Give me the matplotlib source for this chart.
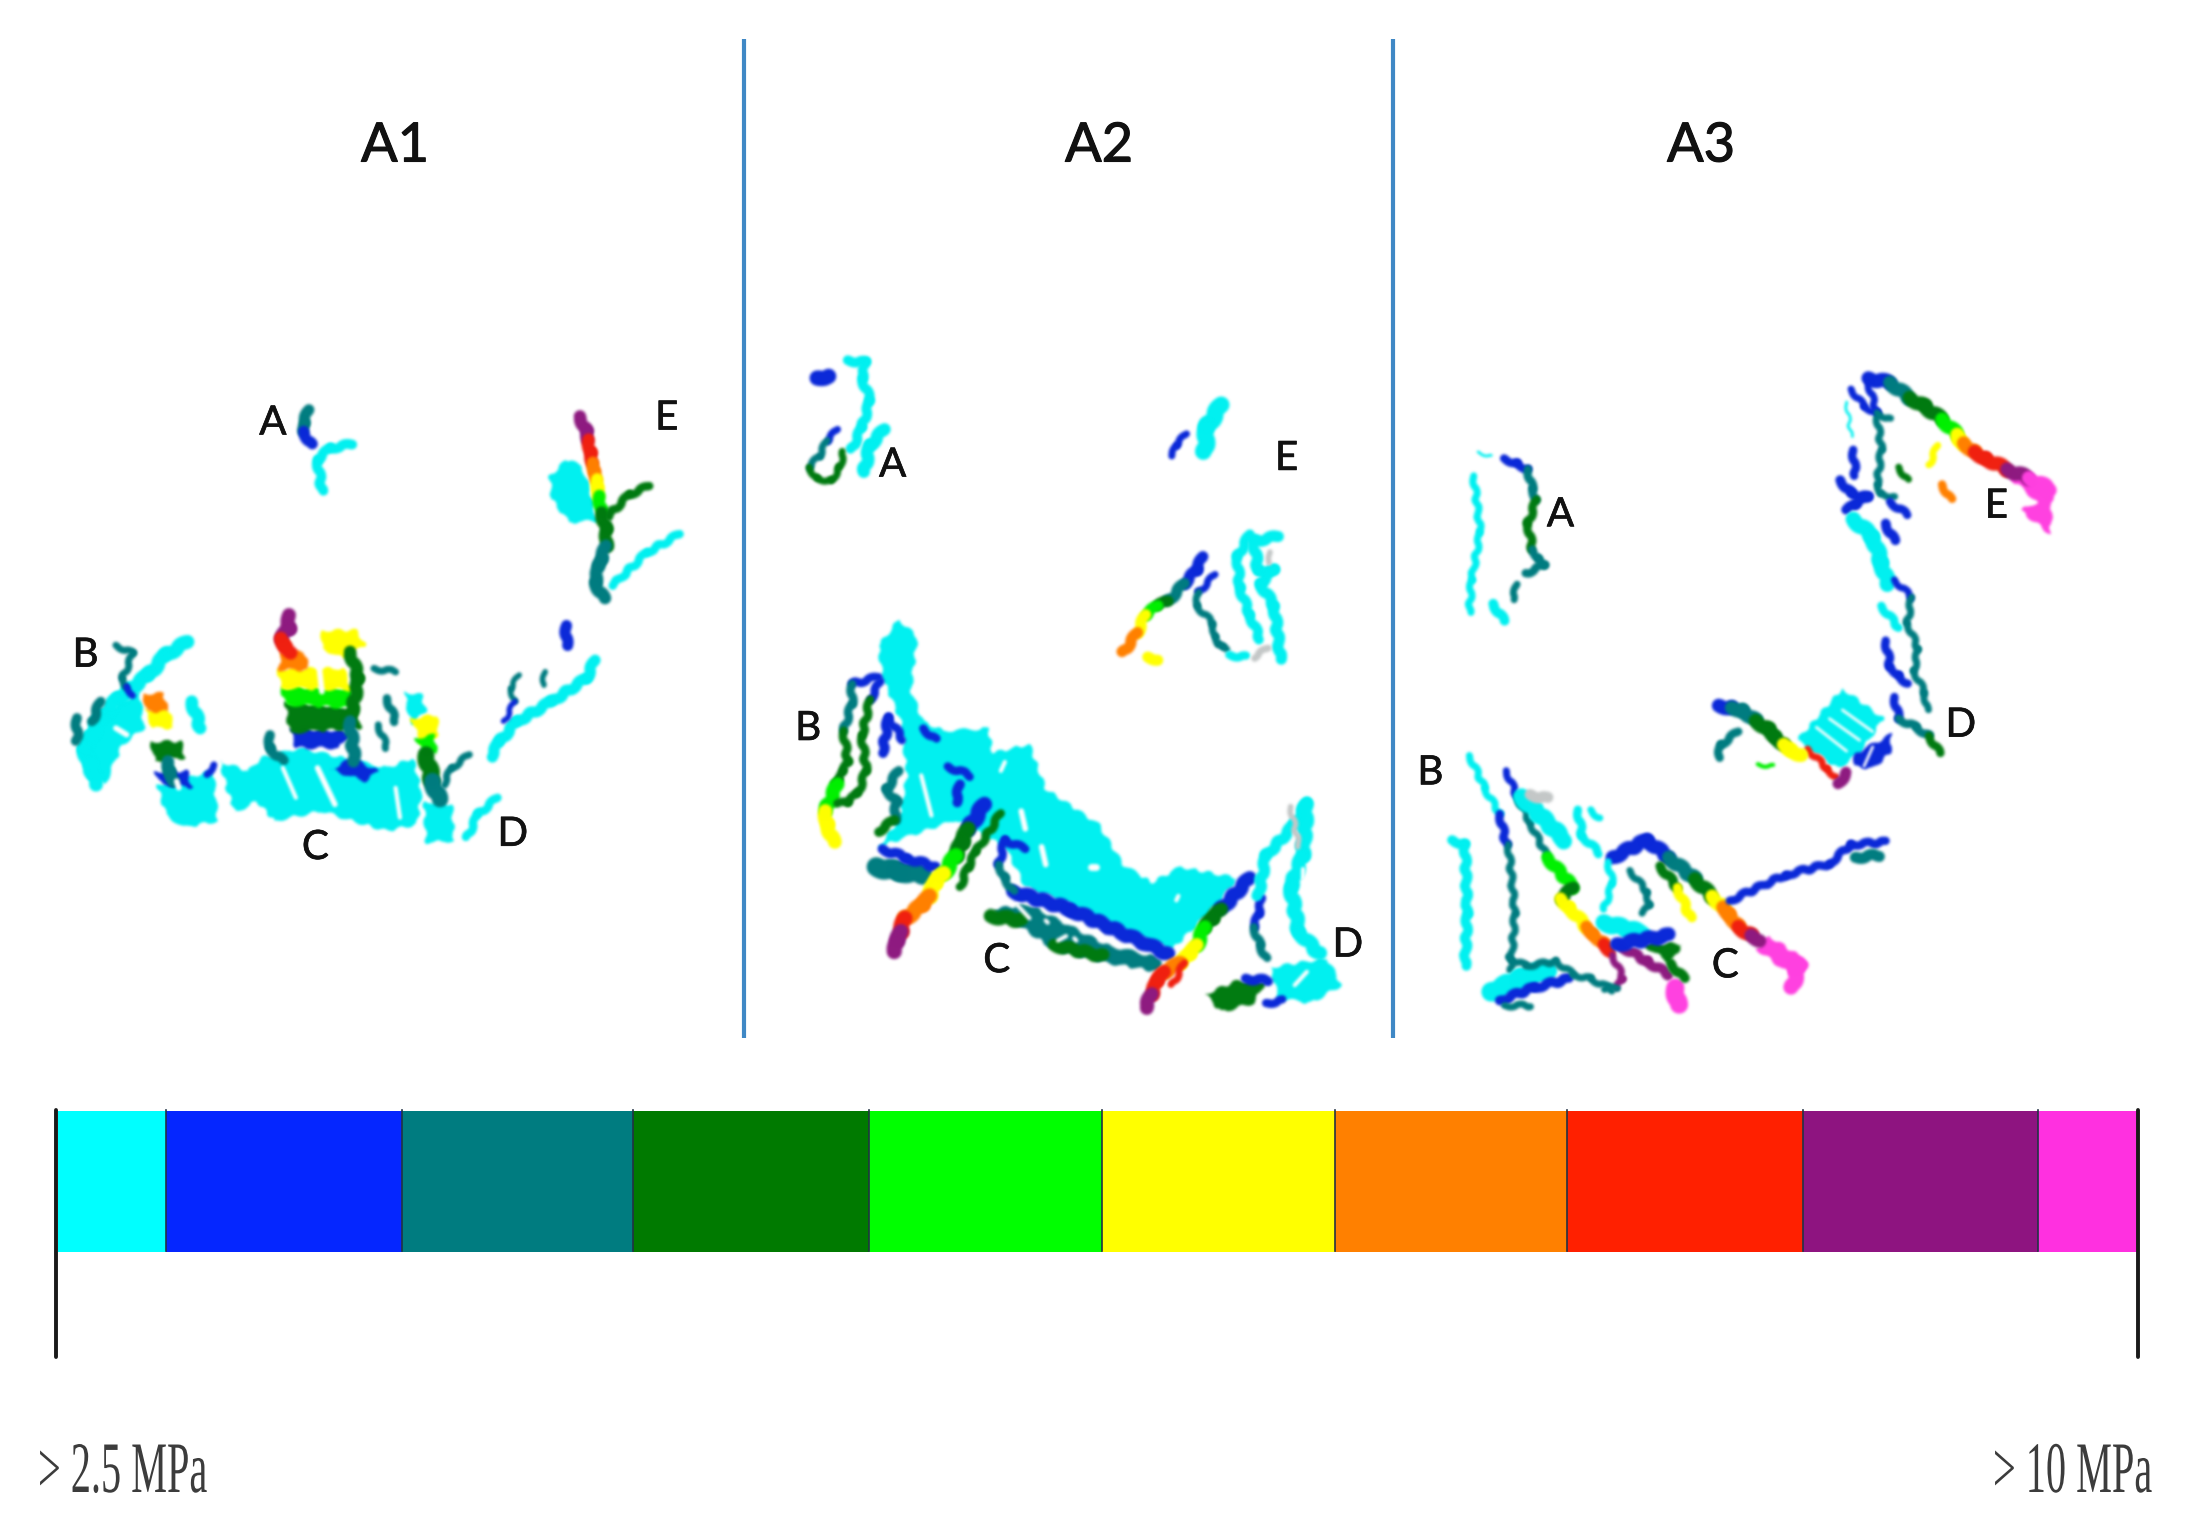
import numpy as np
import matplotlib
matplotlib.use("Agg")
import matplotlib.pyplot as plt
import matplotlib.patheffects as pe
from matplotlib.patches import Polygon
from matplotlib.transforms import Affine2D

W, H = 2204, 1536
PAL = dict(c='#00F0F0', b='#0A28D8', t='#007C80', g='#007A10', l='#00F000',
           y='#FFFF00', o='#FF8000', r='#F02010', p='#8E1A80', m='#FF40E0',
           s='#C4C8C8')

# ---- colour scale
scale_colors = ['#00FFFF', '#0526FF', '#007C80', '#007A00', '#00FF00',
                '#FFFF00', '#FF8000', '#FF2000', '#8E1480', '#FF30E0']
scale_edges = [58, 166, 402, 633, 869, 1102, 1335, 1567, 1803, 2038, 2137]
scale_labels = ['> 2.5 MPa', '> 10 MPa']
panel_titles = ['A1', 'A2', 'A3']

# ---- region labels: (text, x, y)
labels_1 = [('A', 537, 190), ('B', 105, 890), ('C', 635, 1470), ('D', 1090, 1430), ('E', 1445, 175)]
labels_2 = [('A', 325, 325), ('B', 118, 915), ('C', 580, 1435), ('D', 1440, 1400), ('E', 1290, 310)]
labels_3 = [('A', 370, 380), ('B', 70, 975), ('C', 750, 1420), ('D', 1293, 865), ('E', 1375, 360)]

# ---- filled stress regions: (colour, outline)
fills_1 = [
 ('c', [(1215,300),(1175,350),(1180,420),(1220,490),(1285,485),(1270,400),(1250,320)]),
 ('c', [(885,1330),(950,1340),(955,1450),(890,1455)]),
 ('c', [(415,1210),(480,1240),(510,1200),(600,1170),(700,1200),(800,1230),(860,1200),(880,1300),(870,1400),(800,1420),(720,1390),(650,1360),(540,1390),(500,1330),(450,1365),(430,1290)]),
 ('c', [(270,1280),(400,1240),(410,1390),(330,1410),(290,1370)]),
 ('c', [(120,1080),(230,1000),(240,1110),(190,1160),(150,1280),(110,1260),(90,1180)]),
 ('c', [(840,1000),(880,1010),(890,1060),(855,1100)]),
 ('b', [(575,1110),(720,1120),(690,1170),(590,1170)]),
 ('g', [(565,1030),(730,1050),(740,1110),(575,1125)]),
 ('l', [(555,985),(720,990),(730,1050),(565,1040)]),
 ('y', [(548,930),(700,930),(720,995),(555,990)]),
 ('o', [(555,880),(610,880),(620,935),(550,935)]),
 ('y', [(650,815),(730,815),(750,860),(700,900),(650,870)]),
 ('b', [(670,1235),(720,1200),(780,1240),(750,1270)]),
 ('y', [(855,1080),(915,1070),(920,1130),(880,1160)]),
 ('l', [(865,1140),(910,1130),(915,1190),(885,1190)]),
 ('y', [(240,1050),(295,1050),(310,1110),(260,1110)]),
 ('o', [(238,1005),(285,1005),(295,1060),(245,1060)]),
 ('g', [(255,1150),(325,1150),(335,1200),(265,1210)]),
 ('b', [(265,1240),(340,1240),(350,1290),(280,1280)]),
]
fills_2 = [
 ('c', [(340,670),(385,710),(370,830),(400,900),(450,920),(560,915),(570,970),(660,950),(700,1050),(830,1130),(890,1220),(960,1260),(1030,1225),(1170,1250),(1120,1310),(1010,1410),(900,1375),(760,1310),(650,1270),(600,1180),(480,1120),(290,1180),(340,1120),(360,1020),(345,900),(300,800),(290,730)]),
 ('c', [(1250,1450),(1390,1430),(1425,1490),(1350,1530),(1270,1520)]),
 ('g', [(1090,1510),(1170,1480),(1240,1480),(1210,1530),(1130,1550)]),
 ('t', [(560,1320),(660,1310),(850,1400),(985,1430),(975,1460),(850,1440),(720,1410),(640,1360)]),
]
fills_3 = [
 ('c', [(1020,780),(1115,850),(1060,930),(1010,965),(915,900)]),
 ('b', [(1135,885),(1130,930),(1090,965),(1045,960),(1050,930)]),
 ('m', [(1420,280),(1505,315),(1500,425),(1430,370),(1470,350),(1400,290)]),
 ('g', [(550,1365),(650,1370),(625,1415)]),
 ('m', [(850,1350),(940,1410),(935,1440),(900,1440),(820,1380)]),
]

# ---- strokes: (width, colour codes per vertex, vertices)
strokes_1 = [
 (7, 'cccc', [(720,255),(670,265),(640,300),(650,395)]),
 (8, 'ttbb', [(620,150),(608,190),(608,215),(625,255)]),
 (6, 'ccc', [(1475,525),(1400,580),(1320,680)]),
 (9, 'pprrooyylggttttb', [(1245,170),(1260,215),(1265,240),(1270,280),(1275,310),(1280,335),(1285,360),(1288,385),(1290,410),(1295,460),(1305,510),(1305,560),(1295,600),(1290,620),(1280,670),(1300,720)]),
 (6, 'ggg', [(1405,380),(1360,405),(1310,470)]),
 (8, 'bb', [(1212,800),(1212,860)]),
 (8, 'cccccc', [(1280,905),(1260,960),(1180,1030),(1100,1090),(1060,1150),(1040,1195)]),
 (4, 'ttbb', [(1105,950),(1085,990),(1095,1030),(1070,1090)]),
 (4, 'tt', [(1165,940),(1160,980)]),
 (6, 'ccc', [(1055,1320),(1010,1370),(985,1440)]),
 (12, 'gtb', [(890,1190),(905,1270),(920,1325)]),
 (5, 'ttt', [(990,1190),(950,1230),(930,1280)]),
 (10, 'pprrr', [(575,770),(575,810),(555,840),(565,860),(580,880)]),
 (9, 'ggtt', [(715,880),(735,960),(715,1090),(725,1210)]),
 (7, 'ttb', [(530,1130),(530,1170),(560,1210)]),
 (6, 'tb', [(800,1020),(820,1090)]),
 (5, 'tb', [(780,1100),(800,1170)]),
 (5, 'tt', [(770,930),(820,940)]),
 (10, 'ccccccc', [(340,850),(290,890),(250,950),(180,1020),(140,1080),(100,1170),(130,1280)]),
 (9, 'cc', [(350,1030),(370,1110)]),
 (5, 'tttbb', [(175,860),(215,885),(190,960),(200,985),(215,1010)]),
 (7, 'tt', [(140,1030),(120,1090)]),
 (7, 'tb', [(85,1080),(85,1150)]),
 (9, 'ttb', [(295,1210),(300,1240),(310,1270)]),
 (5, 'bt', [(385,1250),(400,1220)]),
]
strokes_2 = [
 (11, 'bb', [(140,130),(168,125)]),
 (7, 'cccccc', [(215,90),(260,95),(250,130),(270,180),(250,240),(225,290)]),
 (9, 'ccc', [(305,245),(270,280),(255,340)]),
 (5, 'bttggggb', [(190,245),(165,270),(145,305),(120,330),(140,355),(175,360),(195,330),(205,295)]),
 (12, 'ccc', [(1130,190),(1095,240),(1090,295)]),
 (5, 'bbt', [(1045,255),(1020,280),(1010,305)]),
 (8, 'bbtglyor', [(1085,530),(1070,560),(1040,590),(1000,630),(975,640),(945,660),(925,700),(890,745)]),
 (5, 'bttttttb', [(1115,570),(1075,610),(1070,640),(1110,680),(1115,710),(1125,725),(1135,730),(1145,735)]),
 (7, 'ccccc', [(1200,480),(1170,530),(1175,600),(1200,660),(1225,715)]),
 (8, 'ccccccc', [(1270,485),(1210,495),(1220,560),(1260,560),(1225,590),(1260,640),(1275,760)]),
 (6, 'cc', [(1150,750),(1190,755)]),
 (4, 'ss', [(1250,520),(1250,545)]),
 (5, 'ss', [(1245,735),(1210,755)]),
 (8, 'yy', [(950,755),(975,760)]),
 (6, 'bttggggg', [(290,800),(225,815),(225,860),(205,920),(215,990),(205,1010),(195,1030),(185,1040)]),
 (10, 'lyyy', [(190,1040),(160,1100),(165,1130),(180,1170)]),
 (6, 'bgggggl', [(295,810),(270,850),(250,930),(260,1010),(240,1060),(215,1080),(190,1085)]),
 (7, 'bt', [(315,890),(300,970)]),
 (7, 'tttgg', [(340,1010),(310,1050),(335,1080),(330,1120),(290,1145)]),
 (6, 'bb', [(400,915),(430,940)]),
 (6, 'bb', [(315,890),(350,940)]),
 (6, 'bb', [(460,1000),(515,1020)]),
 (7, 'bb', [(490,1040),(480,1080)]),
 (14, 'ttt', [(285,1225),(340,1235),(400,1240)]),
 (7, 'bbb', [(300,1185),(360,1205),(430,1225)]),
 (10, 'bbb', [(620,1280),(760,1320),(1000,1420)]),
 (10, 'gg', [(565,1335),(640,1345)]),
 (9, 'gg', [(720,1400),(840,1425)]),
 (11, 'bgglyyoorppp', [(550,1085),(510,1140),(495,1170),(480,1200),(450,1240),(430,1260),(415,1290),(400,1310),(355,1340),(345,1370),(338,1390),(330,1415)]),
 (6, 'gggy', [(590,1105),(530,1190),(510,1225),(490,1270)]),
 (6, 'bbttt', [(650,1185),(600,1165),(585,1220),(600,1250),(620,1280)]),
 (10, 'bgglyyorrpp', [(1200,1250),(1130,1320),(1110,1340),(1090,1360),(1070,1400),(1055,1420),(1030,1440),(990,1460),(975,1480),(960,1510),(945,1540)]),
 (5, 'rr', [(1040,1440),(1010,1490)]),
 (6, 'bbttt', [(1230,1295),(1222,1330),(1210,1360),(1225,1400),(1240,1430)]),
 (8, 'cccc', [(1340,1080),(1310,1130),(1240,1200),(1220,1290)]),
 (10, 'ccccc', [(1340,1085),(1330,1200),(1300,1270),(1320,1370),(1370,1420)]),
 (4, 'ss', [(1300,1090),(1320,1180)]),
 (7, 'bb', [(1190,1475),(1245,1480)]),
 (6, 'bb', [(1240,1530),(1280,1525)]),
]
strokes_3 = [
 (5, 'cccc', [(170,290),(185,420),(165,530),(160,605)]),
 (2, 'cc', [(180,235),(210,245)]),
 (7, 'cc', [(215,585),(240,625)]),
 (6, 'bbttggtttg', [(240,250),(270,262),(295,275),(305,320),(315,345),(295,400),(305,460),(320,480),(335,495),(290,515)]),
 (5, 'tt', [(270,540),(260,575)]),
 (10, 'btgglyyorrpmm', [(1080,65),(1130,75),(1175,110),(1210,130),(1250,160),(1285,195),(1290,205),(1300,215),(1325,235),(1350,250),(1400,275),(1450,295),(1500,320)]),
 (5, 'bttttt', [(1080,75),(1100,150),(1110,230),(1100,310),(1110,330),(1140,340)]),
 (5, 'bbtt', [(1040,90),(1070,130),(1100,145),(1130,160)]),
 (6, 'bb', [(1045,230),(1050,290)]),
 (7, 'bbbbb', [(1015,300),(1040,330),(1080,340),(1050,355),(1030,370)]),
 (7, 'bb', [(1120,400),(1140,440)]),
 (6, 'bb', [(1130,350),(1170,380)]),
 (5, 'gl', [(1150,270),(1170,300)]),
 (5, 'yy', [(1240,220),(1220,265)]),
 (6, 'oo', [(1250,310),(1270,345)]),
 (2, 'cc', [(1030,120),(1040,200)]),
 (11, 'cccc', [(1045,390),(1090,430),(1110,490),(1125,540)]),
 (5, 'btttttt', [(1140,530),(1180,570),(1170,630),(1195,690),(1185,740),(1210,790),(1215,830)]),
 (6, 'ct', [(1110,590),(1150,640)]),
 (6, 'bbbt', [(1120,670),(1130,730),(1150,750),(1170,770)]),
 (6, 'bttgl', [(1140,800),(1150,850),(1190,870),(1220,890),(1245,930)]),
 (5, 'rrp', [(940,920),(985,965),(1005,985)]),
 (8, 'pb', [(1010,1000),(1030,975)]),
 (10, 'bttgggyyy', [(735,820),(765,825),(790,830),(820,855),(850,875),(865,890),(885,910),(900,920),(925,935)]),
 (6, 'ttt', [(780,880),(740,910),(735,940)]),
 (3, 'll', [(825,955),(860,960)]),
 (5, 'ccc', [(160,935),(195,1010),(230,1070)]),
 (6, 'bb', [(230,1070),(245,1140)]),
 (5, 'ttt', [(250,1140),(265,1300),(255,1430)]),
 (7, 'cccc', [(120,1130),(150,1140),(155,1300),(150,1420)]),
 (5, 'bttg', [(245,970),(270,1030),(300,1090),(340,1170)]),
 (12, 'cc', [(280,1030),(380,1130)]),
 (6, 'ccc', [(410,1060),(420,1120),(460,1160)]),
 (5, 'cc', [(440,1060),(460,1080)]),
 (8, 'ss', [(300,1025),(340,1035)]),
 (9, 'lgyyoorr', [(340,1170),(400,1240),(370,1265),(390,1285),(430,1330),(445,1345),(470,1370),(485,1385)]),
 (5, 'pptt', [(490,1395),(515,1450),(500,1470),(470,1470)]),
 (7, 'ppm', [(510,1375),(570,1410),(620,1440)]),
 (13, 'mm', [(635,1470),(640,1510)]),
 (14, 'ccc', [(210,1480),(280,1450),(340,1430)]),
 (7, 'bbb', [(230,1500),(310,1470),(390,1450)]),
 (5, 'tttttt', [(250,1400),(290,1420),(360,1410),(400,1440),(440,1450),(490,1475)]),
 (5, 'tt', [(240,1510),(300,1510)]),
 (10, 'bbtgyoorpp', [(490,1170),(570,1130),(620,1170),(680,1220),(720,1260),(745,1285),(760,1300),(780,1330),(810,1350),(830,1360)]),
 (5, 'cct', [(480,1180),(490,1230),(470,1290)]),
 (5, 'tttt', [(530,1200),(570,1250),(575,1280),(560,1300)]),
 (12, 'cc', [(470,1320),(560,1345)]),
 (10, 'bb', [(500,1370),(620,1350)]),
 (7, 'gyy', [(600,1190),(640,1240),(670,1310)]),
 (7, 'gl', [(625,1415),(655,1450)]),
 (6, 'bbbbb', [(760,1270),(890,1210),(990,1185),(1040,1140),(1120,1135)]),
 (8, 'tt', [(1050,1170),(1105,1165)]),
 (11, 'mm', [(920,1415),(905,1470)]),
]
# ---- unstressed holes inside the filled regions: (width, vertices)
holes_1 = [(4, [(640,880),(650,1000)]), (4, [(640,1230),(680,1340)]), (3, [(560,1230),(590,1320)]),
           (3, [(820,1290),(830,1380)]), (4, [(315,1270),(320,1290)]), (4, [(175,1110),(200,1130)])]
holes_2 = [(5, [(812,1225),(822,1225)]), (4, [(640,1100),(650,1140)]), (4, [(690,1180),(700,1220)]),
           (3, [(395,1020),(420,1110)]), (3, [(600,990),(590,1010)]), (3, [(1020,1300),(1025,1290)]),
           (3, [(1340,1460),(1310,1490)]), (3, [(1330,1250),(1330,1230)]),
           (3, [(630,1310),(660,1340)]), (3, [(700,1345),(705,1350)]), (3, [(770,1385),(775,1390)]),
           (3, [(825,1375),(835,1380)]), (3, [(730,1390),(750,1380)])]
holes_3 = [(2, [(1020,830),(1090,880)]), (2, [(990,850),(1060,900)]), (2, [(960,870),(1030,925)]),
           (2, [(1090,915),(1070,960)])]

ROUGH = (1.6, 22, 2.5)


def soften(image, dpi):
    """Slight blur, like the resampled screenshot."""
    pad = 5
    a = np.pad(image, ((pad, pad), (pad, pad), (0, 0)))
    rgb = a[..., :3] * a[..., 3:4]
    pm = np.dstack([rgb, a[..., 3]])
    kernel = np.array([1, 4, 8, 10, 8, 4, 1], float)
    kernel /= kernel.sum()
    for ax_i in (0, 1):
        pm = np.apply_along_axis(lambda v: np.convolve(v, kernel, mode='same'), ax_i, pm)
    alpha = np.clip(pm[..., 3:4], 1e-4, 1)
    out = np.dstack([np.clip(pm[..., :3] / alpha, 0, 1), pm[..., 3]])
    return out, -pad, -pad


class Stretch(pe.AbstractPathEffect):
    """Tall, narrow lettering of the original scale labels."""
    def __init__(self, sy, y0):
        super().__init__()
        self.sy, self.y0 = sy, y0

    def draw_path(self, renderer, gc, tpath, affine, rgbFace=None):
        t = affine + Affine2D().translate(0, -self.y0).scale(1, self.sy).translate(0, self.y0)
        renderer.draw_path(gc, tpath, t, rgbFace)


plt.rcParams['font.family'] = ['Lato', 'DejaVu Sans']
fig = plt.figure(figsize=(W / 100, H / 100), dpi=100, facecolor='white')
bg = fig.add_axes([0, 0, 1, 1])
bg.set_xlim(0, W)
bg.set_ylim(H, 0)
bg.axis('off')

# dividers
for x in (744, 1393):
    bg.plot([x, x], [39, 1038], color='#3F88C5', lw=3, solid_capstyle='butt')

# titles
heavier = [pe.withStroke(linewidth=0.8, foreground='#111111')]
for t, x in zip(panel_titles, (395, 1099, 1701)):
    bg.text(x, 146, t, ha='center', va='center', fontsize=39, color='#111111',
            path_effects=heavier)

# colour scale
lefts = np.array(scale_edges[:-1])
widths = np.diff(scale_edges)
bg.barh([1181] * len(lefts), widths, left=lefts, height=141, color=scale_colors,
        edgecolor='none')
for x in scale_edges[1:-1]:
    bg.plot([x, x], [1110, 1251], color='#223344', lw=1.2)
for x in (56, 2138):
    bg.plot([x, x], [1110, 1357], color='#1A1A1A', lw=2.8, solid_capstyle='round')

for s, x, y in ((scale_labels[0], 38, 1492), (scale_labels[1], 1993, 1492)):
    y_disp = H - y
    bg.text(x, y, s, ha='left', va='baseline', family=['Liberation Serif'], fontsize=29,
            color='#3C3C3C', path_effects=[Stretch(1.8, y_disp)])

# panels
boxes = [(40, 360, 680, 520), (760, 320, 640, 700), (1400, 350, 680, 680)]
panels = [(fills_1, strokes_1, holes_1, labels_1),
          (fills_2, strokes_2, holes_2, labels_2),
          (fills_3, strokes_3, holes_3, labels_3)]
for (x0, y0, bw, bh), (fills, strokes, holes, labels) in zip(boxes, panels):
    ax = fig.add_axes([x0 / W, 1 - (y0 + bh) / H, bw / W, bh / H])
    ax.patch.set_alpha(0)
    ax.set_xlim(0, 1568)
    ax.set_ylim(1568, 0)
    ax.axis('off')
    for code, pts in fills:
        p = ax.add_patch(Polygon(pts, closed=True, facecolor=PAL[code], edgecolor='none'))
        p.set_sketch_params(*ROUGH)
        p.set_agg_filter(soften)
    for lw, pts in holes:
        xs, ys = zip(*pts)
        ln, = ax.plot(xs, ys, color='white', lw=lw, solid_capstyle='round', zorder=3)
        ln.set_agg_filter(soften)
    for lw, codes, pts in strokes:
        for i in range(len(pts) - 1):
            (xa, ya), (xb, yb) = pts[i], pts[i + 1]
            ln, = ax.plot([xa, xb], [ya, yb], color=PAL[codes[i]], lw=lw,
                          solid_capstyle='round', zorder=2)
            ln.set_sketch_params(*ROUGH)
            ln.set_agg_filter(soften)
    for t, x, y in labels:
        ax.text(x, y, t, ha='center', va='center', fontsize=29, color='#111111', zorder=10,
                path_effects=[pe.withStroke(linewidth=0.5, foreground='#111111')])

fig.savefig('out.png', dpi=100, facecolor='white')
